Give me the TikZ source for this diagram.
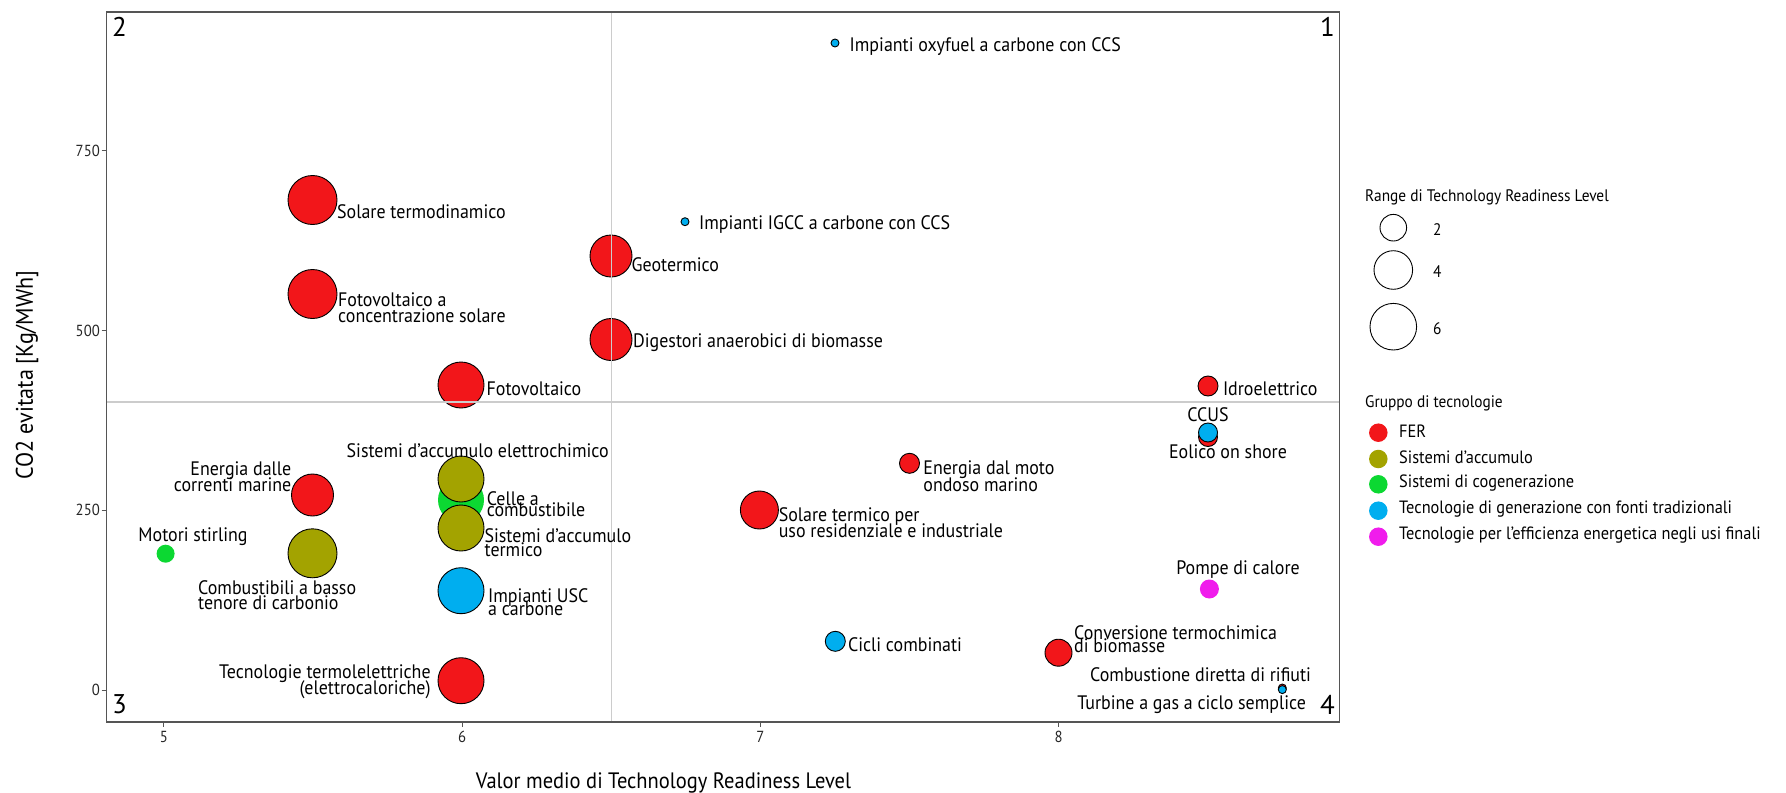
\documentclass[tikz,border=0pt]{standalone}
\usepackage{fontspec}
\setmainfont[FakeStretch=0.92]{PT Sans}
\newfontfamily\numfont{PT Sans}
\newcommand\lblf[1]{\fontsize{19.5bp}{#1bp}\selectfont\lineskiplimit=-100pt\lineskip=0pt}
\newcommand\tickf{\fontsize{16bp}{18bp}\selectfont}
\newcommand\xtitf{\fontsize{22.3bp}{24bp}\selectfont}
\newcommand\ytitf{\fontsize{24bp}{26bp}\selectfont}
\newcommand\legf{\fontsize{17.8bp}{20bp}\selectfont}
\newcommand\legtf{\fontsize{16.7bp}{20bp}\selectfont}
\newcommand\quadf{\numfont\fontsize{27bp}{29bp}\selectfont}
\definecolor{cfer}{RGB}{242,22,26}
\definecolor{cacc}{RGB}{163,163,0}
\definecolor{ccog}{RGB}{12,216,50}
\definecolor{ctrad}{RGB}{0,174,239}
\definecolor{ceff}{RGB}{240,28,236}
\definecolor{framec}{RGB}{85,85,85}
\definecolor{gridc}{RGB}{204,204,204}
\tikzset{
  bub/.style={circle, draw=black, line width=0.9bp, inner sep=0pt, minimum size=#1bp},
  flat/.style={circle, inner sep=0pt, minimum size=#1bp},
  lbl/.style={font=\lblf{16}, inner sep=0pt, align=left, anchor=west},
  lblr/.style={font=\lblf{16}, inner sep=0pt, align=right, anchor=east},
  lblc/.style={font=\lblf{16}, inner sep=0pt, align=center, anchor=center},
  tick/.style={line width=0.9bp, draw=framec},
  ticklbl/.style={font=\tickf, inner sep=0pt, text=black!85},
  legtxt/.style={font=\legf, inner sep=0pt, anchor=west},
  legtitle/.style={font=\legtf, inner sep=0pt, anchor=west},
  quad/.style={font=\quadf, inner sep=0pt},
  refline/.style={draw=gridc, line width=1.2bp}
}
\begin{document}
\begin{tikzpicture}[x=1bp,y=-1bp]
\useasboundingbox (0,0) rectangle (1786,793);
\fill[white] (0,0) rectangle (1786,793);

% bubbles
\node[bub=49, fill=cfer] (b1) at (312.5,200) {};
\node[bub=49, fill=cfer] (b2) at (312.5,294) {};
\node[bub=42, fill=cfer] (b3) at (611,256) {};
\node[bub=42, fill=cfer] (b4) at (611,339.5) {};
\node[bub=46, fill=cfer] (b5) at (461,385) {};
\node[bub=8, fill=ctrad] (b6) at (685,221.7) {};
\node[bub=8, fill=ctrad] (b7) at (835,43) {};
\node[bub=20, fill=cfer] (b8) at (1208,386) {};
\node[bub=42, fill=cfer] (b10) at (312.5,495) {};
\node[flat=46, fill=ccog] (b11) at (461,500) {};
\node[bub=46, fill=cacc] (b9) at (461,479) {};
\node[bub=46, fill=cacc] (b12) at (461,528) {};
\node[flat=18, fill=ccog] (b13) at (165.6,553.7) {};
\node[bub=49, fill=cacc] (b14) at (312.5,553.3) {};
\node[bub=46, fill=ctrad] (b15) at (461,590.7) {};
\node[bub=46, fill=cfer] (b16) at (461,680.7) {};
\node[bub=19, fill=cfer] (b18) at (1208,437) {};
\node[bub=19, fill=ctrad] (b17) at (1208,432.5) {};
\node[bub=20, fill=cfer] (b19) at (909.5,463.3) {};
\node[bub=38, fill=cfer] (b20) at (759.4,510) {};
\node[flat=19, fill=ceff] (b21) at (1209.4,589) {};
\node[bub=20, fill=ctrad] (b22) at (835.3,641.3) {};
\node[bub=27, fill=cfer] (b23) at (1058.5,652.7) {};
\node[bub=8, fill=cfer] (b24) at (1282.3,688) {};
\node[bub=8, fill=ctrad] (b25) at (1282.3,689.6) {};

% reference lines
\draw[refline] (106.5,402) -- (1339.5,402);
\draw[refline] (611.3,12) -- (611.3,722);

% labels
\node[lbl] (l1) at (337,212) {Solare termodinamico};
\node[lbl] (l2) at (338,308) {Fotovoltaico a\\concentrazione solare};
\node[lbl] (l3) at (631.5,265) {Geotermico};
\node[lbl] (l4) at (633,343) {Digestori anaerobici di biomasse};
\node[lbl] (l5) at (486.5,389) {Fotovoltaico};
\node[lbl] (l6) at (699,225) {Impianti IGCC a carbone con CCS};
\node[lbl] (l7) at (849.5,47) {Impianti oxyfuel a carbone con CCS};
\node[lbl] (l8) at (1222.8,388.7) {Idroelettrico};
\node[lblc] (l9) at (477.7,451) {Sistemi d'accumulo elettrochimico};
\node[lblr] (l10) at (291.5,476.3) {Energia dalle\\correnti marine};
\node[lbl, font=\lblf{11}] (l11) at (486.6,503.8) {Celle a\\combustibile};
\node[lbl, font=\lblf{13.3}] (l12) at (484.4,542.7) {Sistemi d'accumulo\\termico};
\node[lblc] (l13) at (193,537) {Motori stirling};
\node[lbl, font=\lblf{15}] (l14) at (198,595.2) {Combustibili a basso\\tenore di carbonio};
\node[lbl, font=\lblf{13.3}] (l15) at (488,602) {Impianti USC\\a carbone};
\node[lblr, font=\lblf{15.7}] (l16) at (430.8,681.5) {Tecnologie termolelettriche\\(elettrocaloriche)};
\node[lblc] (l17) at (1208,415) {CCUS};
\node[lblc] (l18) at (1228,452) {Eolico on shore};
\node[lbl, font=\lblf{16.7}] (l19) at (923.2,476) {Energia dal moto\\ondoso marino};
\node[lbl, font=\lblf{16.7}] (l20) at (778.6,522.7) {Solare termico per\\uso residenziale e industriale};
\node[lblc] (l21) at (1238,569.3) {Pompe di calore};
\node[lbl] (l22) at (847.8,645) {Cicli combinati};
\node[lbl, font=\lblf{13.3}] (l23) at (1074,639.3) {Conversione termochimica\\di biomasse};
\node[lblc] (l24) at (1200.6,674.3) {Combustione diretta di rifiuti};
\node[lblc] (l25) at (1191.6,705) {Turbine a gas a ciclo semplice};

% quadrant numbers
\node[quad] (q1) at (1327.5,27) {1};
\node[quad] (q2) at (119.6,27) {2};
\node[quad] (q3) at (119.6,704) {3};
\node[quad] (q4) at (1327.5,705) {4};

% frame
\draw[draw=framec, line width=1.5bp] (106.5,12) rectangle (1339.5,722);

% ticks
\foreach \yy/\lab in {690/0, 510.2/250, 330.5/500, 150.7/750} {
  \draw[tick] (101.5,\yy) -- (106.5,\yy);
  \node[ticklbl, anchor=east] (yt\lab) at (100,\yy) {\lab};
}
\foreach \xx/\lab in {163.8/5, 462.1/6, 760.4/7, 1058.7/8} {
  \draw[tick] (\xx,722) -- (\xx,727);
  \node[ticklbl, anchor=north] (xt\lab) at (\xx,731) {\lab};
}

% axis titles
\node[font=\ytitf, inner sep=0pt, rotate=90] (ytitle) at (27,375) {CO2 evitata [Kg/MWh]};
\node[font=\xtitf, inner sep=0pt] (xtitle) at (663.5,782.5) {Valor medio di Technology Readiness Level};

% legend: size
\node[legtitle] (lgt1) at (1365,197.7) {Range di Technology Readiness Level};
\node[bub=26.6] (ls2) at (1393.3,227.7) {};
\node[bub=38.6] (ls4) at (1393.3,270) {};
\node[bub=46.6] (ls6) at (1393.3,326.7) {};
\node[legtitle] (ls2l) at (1433,230) {2};
\node[legtitle] (ls4l) at (1433,272) {4};
\node[legtitle] (ls6l) at (1433,329) {6};

% legend: groups
\node[legtitle] (lgt2) at (1365,403.3) {Gruppo di tecnologie};
\node[flat=18.5, fill=cfer] (lg1) at (1378.3,432.7) {};
\node[flat=18.5, fill=cacc] (lg2) at (1378.3,459) {};
\node[flat=18.5, fill=ccog] (lg3) at (1378.3,484.3) {};
\node[flat=18.5, fill=ctrad] (lg4) at (1378.3,510.7) {};
\node[flat=18.5, fill=ceff] (lg5) at (1378.3,536.7) {};
\node[legtxt] (lg1l) at (1399,431.5) {FER};
\node[legtxt] (lg2l) at (1399,457.5) {Sistemi d'accumulo};
\node[legtxt] (lg3l) at (1399,483) {Sistemi di cogenerazione};
\node[legtxt] (lg4l) at (1399,509) {Tecnologie di generazione con fonti tradizionali};
\node[legtxt] (lg5l) at (1399,535) {Tecnologie per l'efficienza energetica negli usi finali};
\end{tikzpicture}
\end{document}
